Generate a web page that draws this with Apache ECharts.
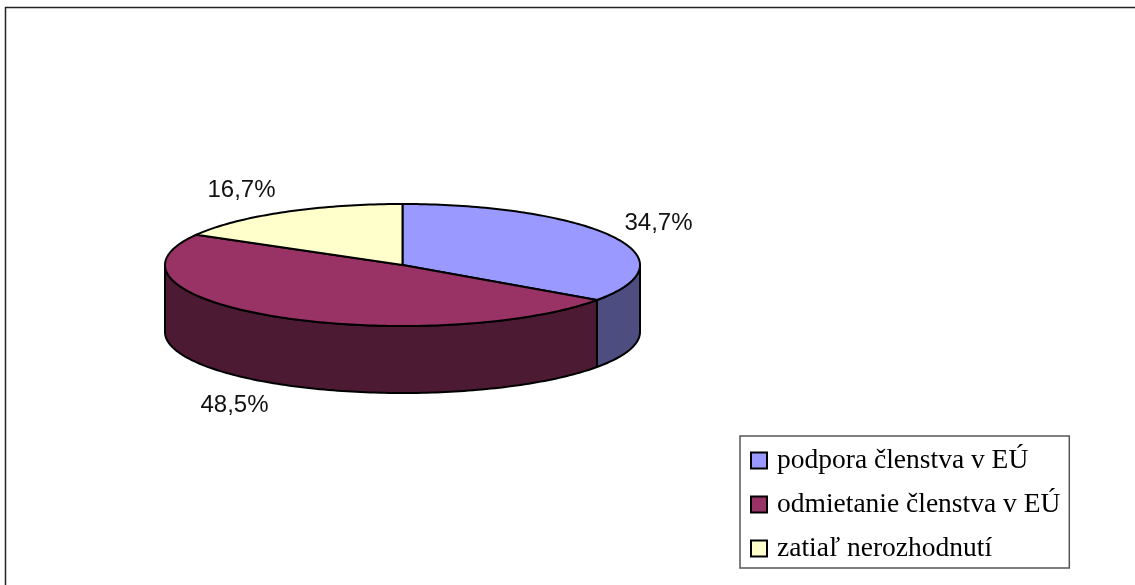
<!DOCTYPE html>
<html><head><meta charset="utf-8">
<style>html,body{margin:0;padding:0;background:#fff}#c{width:1135px;height:585px}</style>
<script src="https://cdn.jsdelivr.net/npm/echarts@6/dist/echarts.min.js"></script>
</head><body><div id="c"></div>
<script>
const categories = ['podpora členstva v EÚ', 'odmietanie členstva v EÚ', 'zatiaľ nerozhodnutí'];
const shares = [34.7, 48.5, 16.7];
const labels = ['34,7%', '48,5%', '16,7%'];
const topColors = ['#9999FF', '#993366', '#FFFFCC'];
const wallColors = ['#4D4D80', '#4D1A33', '#808066'];

const DEPTH = 67;
const total = shares.reduce((a, b) => a + b, 0);
const labelPos = [[658.5, 223], [234.5, 405], [241.5, 190]];

function arcPts(api, a0, a1, dy) {
  const pts = [];
  const n = Math.max(2, Math.ceil((a1 - a0) / 0.02));
  for (let i = 0; i <= n; i++) {
    const t = a0 + (a1 - a0) * i / n;
    const p = api.coord([Math.sin(t), Math.cos(t)]);
    pts.push([p[0], p[1] + dy]);
  }
  return pts;
}
function makeRender(idx) {
  return function (params, api) {
    const a0 = api.value(0) / total * 2 * Math.PI;
    const a1 = api.value(1) / total * 2 * Math.PI;
    const children = [];
    const style = c => ({ fill: c, stroke: '#000', lineWidth: 2, lineJoin: 'round' });
    const w0 = Math.max(a0, Math.PI / 2), w1 = Math.min(a1, 3 * Math.PI / 2);
    if (w1 > w0) {
      const top = arcPts(api, w0, w1, 0);
      const bot = arcPts(api, w0, w1, DEPTH).reverse();
      children.push({ type: 'polygon', shape: { points: top.concat(bot) }, style: style(wallColors[idx]) });
    }
    const c = api.coord([0, 0]);
    children.push({ type: 'polygon', shape: { points: [c].concat(arcPts(api, a0, a1, 0)) }, style: style(topColors[idx]) });
    children.push({ type: 'text', x: labelPos[idx][0], y: labelPos[idx][1], style: {
      text: labels[idx], fill: '#111', font: '24px "Liberation Sans"', align: 'center', verticalAlign: 'middle' } });
    return { type: 'group', children };
  };
}
let acc = 0;
const series = categories.map((name, i) => {
  const start = acc; acc += shares[i];
  return {
    name, type: 'custom', coordinateSystem: 'cartesian2d',
    renderItem: makeRender(i), clip: false, silent: true, animation: false,
    itemStyle: { color: topColors[i], borderColor: '#000', borderWidth: 2 },
    data: [[start, acc]], encode: { x: 0, y: 1 }
  };
});
const chart = echarts.init(document.getElementById('c'), null, { renderer: 'canvas' });
chart.setOption({
  backgroundColor: '#fff', animation: false,
  grid: { left: 165, top: 204, width: 475, height: 122 },
  xAxis: { type: 'value', min: -1, max: 1, show: false },
  yAxis: { type: 'value', min: -1, max: 1, show: false },
  legend: {
    orient: 'vertical', left: 740, top: 436,
    padding: [10, 9, 5, 10], itemGap: 15, itemWidth: 16, itemHeight: 16,
    backgroundColor: '#fff', borderColor: '#555', borderWidth: 1.5,
    icon: 'rect', selectedMode: false,
    textStyle: { fontFamily: 'Liberation Serif', fontSize: 27.5, lineHeight: 29, color: '#000', padding: [0, 0, 0, 5] },
    data: categories
  },
  graphic: [{ type: 'rect', z: -1, silent: true, shape: { x: 5.5, y: 7.5, width: 1140, height: 600 },
    style: { fill: '#fff', stroke: '#222', lineWidth: 1.5 } }],
  series
});
</script></body></html>
